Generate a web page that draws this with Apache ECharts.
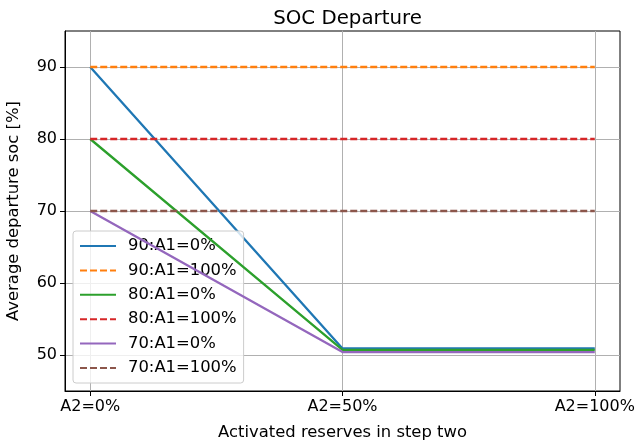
<!DOCTYPE html>
<html><head><meta charset="utf-8">
<script src="https://cdn.jsdelivr.net/npm/echarts@6/dist/echarts.min.js"></script>
<style>html,body{margin:0;padding:0;background:#fff}#c{width:636px;height:445px}</style>
</head><body><div id="c"></div>
<script>
const categories = ['A2=0%', 'A2=50%', 'A2=100%'];
const seriesNames = ['90:A1=0%', '90:A1=100%', '80:A1=0%', '80:A1=100%', '70:A1=0%', '70:A1=100%'];
const s90_0 = [90, 50.9, 50.9];
const s90_100 = [90, 90, 90];
const s80_0 = [80, 50.7, 50.7];
const s80_100 = [80, 80, 80];
const s70_0 = [70, 50.4, 50.4];
const s70_100 = [70, 70, 70];
const yTicks = [50, 60, 70, 80, 90];
const colors = ['#1f77b4', '#ff7f0e', '#2ca02c', '#d62728', '#9467bd', '#8c564b'];
const values = [s90_0, s90_100, s80_0, s80_100, s70_0, s70_100];
const dashed = [false, true, false, true, false, true];

const font = 'DejaVu Sans';
const chart = echarts.init(document.getElementById('c'), null, {renderer: 'canvas'});
const series = seriesNames.map((n, i) => ({
  name: n, type: 'line', symbol: 'none', showSymbol: false,
  data: values[i].map((v, j) => [j, v]),
  lineStyle: {color: colors[i], width: 2.3, type: dashed[i] ? [7, 3] : 'solid'},
  itemStyle: {color: colors[i]},
  z: 2 + i
}));
chart.setOption({
  animation: false,
  backgroundColor: '#fff',
  title: {text: 'SOC Departure', left: 342.5, textAlign: 'center', top: 4,
    textStyle: {fontFamily: font, fontSize: 19.8, fontWeight: 'normal', color: '#000'}},
  grid: {left: 65, top: 31, right: 16, bottom: 54, containLabel: false, outerBoundsMode: 'none',
    show: true, borderColor: '#000', borderWidth: 1, backgroundColor: 'transparent'},
  legend: {
    orient: 'vertical', left: 73, top: 231,
    data: seriesNames.map(n => ({name: n, itemStyle: {opacity: 0}})),
    itemWidth: 36, itemHeight: 16, itemGap: 8.4,
    padding: [7, 7, 7, 6],
    backgroundColor: 'rgba(255,255,255,0.8)', borderColor: '#ccc', borderWidth: 1, borderRadius: 3,
    textStyle: {fontFamily: font, fontSize: 16.4, color: '#000', padding: [0, 0, 0, 7]}
  },
  xAxis: {
    type: 'value', min: -0.1, max: 2.1,
    name: 'Activated reserves in step two', nameLocation: 'middle', nameGap: 34,
    nameTextStyle: {fontFamily: font, fontSize: 16.4, color: '#000'},
    axisLine: {show: true, onZero: false, lineStyle: {color: '#000', width: 1}},
    axisTick: {show: true, inside: false, length: 5, lineStyle: {color: '#000'}, customValues: [0, 1, 2]},
    axisLabel: {fontFamily: font, fontSize: 16, color: '#000', margin: 8, customValues: [0, 1, 2],
      formatter: v => categories[Math.round(v)] || ''},
    splitLine: {show: true, lineStyle: {color: '#b0b0b0', width: 1}}
  },
  yAxis: {
    type: 'value', min: 45, max: 95,
    name: 'Average departure soc [%]', nameLocation: 'middle', nameGap: 43,
    nameTextStyle: {fontFamily: font, fontSize: 16.4, color: '#000'},
    axisLine: {show: true, onZero: false, lineStyle: {color: '#000', width: 1}},
    axisTick: {show: true, inside: false, length: 5, lineStyle: {color: '#000'}, customValues: yTicks},
    axisLabel: {fontFamily: font, fontSize: 16, color: '#000', margin: 8, customValues: yTicks},
    splitLine: {show: true, lineStyle: {color: '#b0b0b0', width: 1}}
  },
  series: series
});
</script></body></html>
